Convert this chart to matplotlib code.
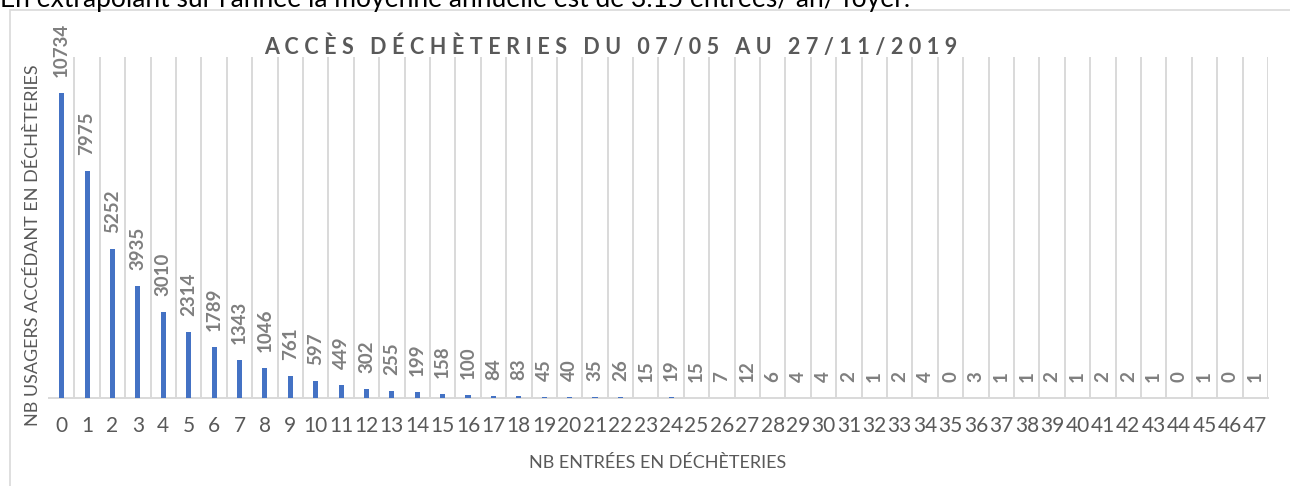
import matplotlib
matplotlib.use("Agg")
import matplotlib.pyplot as plt
from matplotlib.patches import Rectangle

plt.rcParams['font.family'] = ['Lato', 'DejaVu Sans']

categories = [str(i) for i in range(48)]
values = [10734, 7975, 5252, 3935, 3010, 2314, 1789, 1343, 1046, 761,
          597, 449, 302, 255, 199, 158, 100, 84, 83, 45,
          40, 35, 26, 15, 19, 15, 7, 12, 6, 4,
          4, 2, 1, 2, 4, 0, 3, 1, 1, 2,
          1, 2, 2, 1, 0, 1, 0, 1]
title = "ACCÈS DÉCHÈTERIES DU 07/05 AU 27/11/2019"
xlabel = "NB ENTRÉES EN DÉCHÈTERIES"
ylabel = "NB USAGERS ACCÉDANT EN DÉCHÈTERIES"
top_note = "En extrapolant sur l'année la moyenne annuelle est de 3.15 entrées/ an/ foyer."

W, H = 1290, 486
fig = plt.figure(figsize=(W / 100, H / 100), dpi=100)
fig.patch.set_facecolor('white')

# chart frame
fig.patches.append(Rectangle((10 / W, -0.1), 1.2, 1 - 10 / H + 0.1,
                             transform=fig.transFigure, fill=False,
                             edgecolor='#d9d9d9', linewidth=1.2))

# cut-off note at the very top
fig.text(0.0, 1 - 7 / H, top_note, fontsize=19, color='black',
         ha='left', va='baseline')

left, right, bottom, top = 49 / W, 1268 / W, 1 - 398 / H, 1 - 57 / H
ax = fig.add_axes([left, bottom, right - left, top - bottom])

x = list(range(len(categories)))
ax.bar(x, values, width=0.2, color='#4472C4', zorder=3)
ax.set_xlim(-0.5, len(categories) - 0.5)
ax.set_ylim(0, 12000)

for xi, v in zip(x, values):
    ax.annotate(str(v), (xi, v), xytext=(0, 16), textcoords='offset pixels',
                rotation=90, ha='center', va='bottom', fontsize=13.5,
                fontweight='bold', color='#7f7f7f')

for i in range(len(categories)):
    ax.axvline(i + 0.5, color='#d9d9d9', linewidth=1.4, zorder=1)

for s in ['left', 'right', 'top']:
    ax.spines[s].set_visible(False)
ax.spines['bottom'].set_color('#d9d9d9')
ax.spines['bottom'].set_linewidth(1.4)
ax.set_yticks([])
ax.set_xticks(x)
ax.set_xticklabels(categories, fontsize=15, color='#595959')
ax.tick_params(axis='x', length=0, pad=13)

spaced_title = "\u2009\u2009".join(title)
fig.text(611 / W, 1 - 47 / H, spaced_title, fontsize=15.5, fontweight='bold',
         color='#595959', ha='center', va='center')
fig.text(658 / W, 1 - 463 / H, xlabel, fontsize=13, color='#595959',
         ha='center', va='center')
fig.text(33 / W, 1 - 245 / H, ylabel, fontsize=13, color='#595959',
         ha='center', va='center', rotation=90)

fig.savefig('out.png', dpi=100)
